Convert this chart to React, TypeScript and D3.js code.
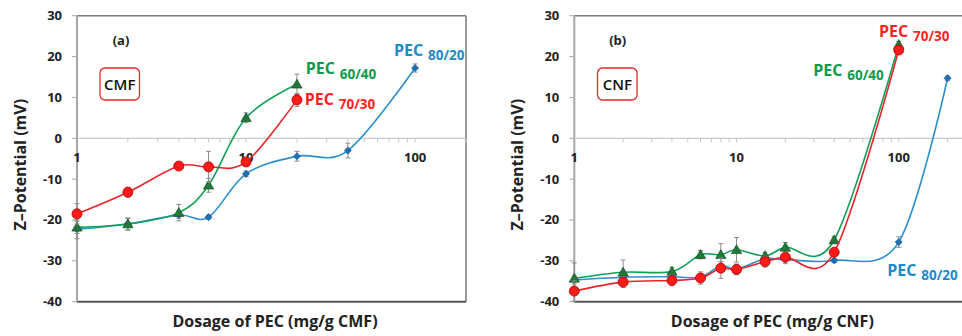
import * as d3 from "d3";

// dosage (mg/g) for each panel
const cmfDose = [1, 2, 4, 6, 10, 20, 40, 100];
const cnfDose = [1, 2, 4, 6, 8, 10, 15, 20, 40, 100, 200];

// Z-potential (mV), panel (a) CMF
const cmf6040 = [-21.8, -21.0, -18.2, -11.5, 5.0, 13.2];
const cmf6040Err = [1.5, 1.5, 2.0, 1.7, 1.2, 2.5];
const cmf7030 = [-18.5, -13.2, -6.8, -7.0, -5.8, 9.4];
const cmf7030Err = [2.5, 1.2, 0.8, 3.8, 1.0, 1.6];
const cmf8020 = [-22.3, -21.0, -18.8, -19.3, -8.7, -4.4, -3.0, 17.2];
const cmf8020Err = [2.3, 1.4, 0.8, 0.5, 0.7, 1.2, 1.8, 1.0];

// Z-potential (mV), panel (b) CNF
const cnf6040 = [-34.3, -32.8, -32.6, -28.5, -28.5, -27.3, -28.8, -26.7, -24.9, 22.9];
const cnf6040Err = [3.8, 3.0, 1.0, 1.0, 2.7, 3.0, 0.8, 1.2, 0.8, 0.8];
const cnf7030 = [-37.4, -35.2, -34.8, -34.2, -31.8, -32.1, -30.2, -29.1, -27.9, 21.6];
const cnf7030Err = [2.5, 1.3, 1.3, 1.5, 2.5, 1.3, 1.3, 1.0, 0.6, 0.8];
const cnf8020 = [-34.7, -34.0, -33.9, -34.0, -31.2, -32.0, -29.5, -29.7, -29.9, -25.4, 14.7];
const cnf8020Err = [1.0, 0.8, 0.8, 0.8, 1.0, 1.0, 0.8, 1.0, 0.5, 1.3, 0.5];

const yTicks = [30, 20, 10, 0, -10, -20, -30, -40];
const xLabels = [1, 10, 100];

const FONT = "'Open Sans', sans-serif";
const RED = "#ff1f1f";
const GREEN = "#0a9a4c";
const BLUE = "#1b8ac8";

type Series = {
  name: string;
  sub: string;
  values: number[];
  err: number[];
  line: string;
  fill: string;
  stroke: string;
  marker: "circle" | "triangle" | "diamond";
  label: [number, number];
};

type PanelProps = {
  x0: number;
  xMax: number;
  tag: string;
  box: string;
  boxX: number;
  tagX: number;
  title: string;
  dose: number[];
  series: Series[];
};

function Marker({ s, x, y }: { s: Series; x: number; y: number }) {
  if (s.marker === "circle")
    return <circle cx={x} cy={y} r={5} fill={s.fill} stroke={s.stroke} strokeWidth={0.8} />;
  if (s.marker === "triangle")
    return (
      <path
        d={d3.symbol(d3.symbolTriangle, 46)() as string}
        transform={`translate(${x},${y + 0.8})`}
        fill={s.fill}
        stroke="#0d3f1e"
        strokeWidth={0.6}
      />
    );
  return (
    <path
      d={d3.symbol(d3.symbolSquare, 26)() as string}
      transform={`translate(${x},${y}) rotate(45)`}
      fill={s.fill}
      stroke={s.stroke}
      strokeWidth={0.5}
    />
  );
}

function Panel({ x0, xMax, tag, box, boxX, tagX, title, dose, series }: PanelProps) {
  const W = 389;
  const top = 15.7;
  const bottom = 301.7;
  const x = d3.scaleLog().domain([1, xMax]).range([x0, x0 + W]);
  const y = d3.scaleLinear().domain([-40, 30]).range([bottom, top]);
  const line = d3
    .line<[number, number]>()
    .x((d) => x(d[0]))
    .y((d) => y(d[1]))
    .curve(d3.curveCardinal.tension(0));
  const minor = x.ticks().filter((t) => t > 1);

  return (
    <g fontFamily={FONT}>
      {/* frame */}
      <line x1={x0} x2={x0 + W} y1={top} y2={top} stroke="#7f7f7f" strokeWidth={1.6} />
      <line x1={x0 + W} x2={x0 + W} y1={top} y2={bottom} stroke="#7f7f7f" strokeWidth={1.6} />
      <line x1={x0} x2={x0 + W} y1={bottom} y2={bottom} stroke="#555" strokeWidth={2} />
      <line x1={x0} x2={x0} y1={top} y2={bottom} stroke="#a6a6a6" strokeWidth={2} />
      {yTicks.map((t) => (
        <g key={t}>
          <line x1={x0 - 5} x2={x0} y1={y(t)} y2={y(t)} stroke="#a6a6a6" strokeWidth={1} />
          <text x={x0 - 15} y={y(t) + 4.5} textAnchor="end" fontSize={13} fontWeight="bold" fill="#222">
            {t}
          </text>
        </g>
      ))}
      {/* zero line with log ticks */}
      <line x1={x0} x2={x0 + W} y1={y(0)} y2={y(0)} stroke="#bfbfbf" strokeWidth={1} />
      {minor.map((t) => (
        <line key={t} x1={x(t)} x2={x(t)} y1={y(0)} y2={y(0) + 4} stroke="#c8c8c8" strokeWidth={1} />
      ))}
      {xLabels.map((t) => (
        <text key={t} x={x(t)} y={y(0) + 24} textAnchor="middle" fontSize={13} fontWeight="bold" fill="#222">
          {t}
        </text>
      ))}

      {series.map((s) => {
        const pts = s.values.map((v, i) => [dose[i], v] as [number, number]);
        return (
          <g key={s.sub}>
            {pts.map(([d, v], i) => (
              <g key={i} stroke="#8c8c8c" strokeWidth={1}>
                <line x1={x(d)} x2={x(d)} y1={y(v - s.err[i])} y2={y(v + s.err[i])} />
                <line x1={x(d) - 2.5} x2={x(d) + 2.5} y1={y(v - s.err[i])} y2={y(v - s.err[i])} />
                <line x1={x(d) - 2.5} x2={x(d) + 2.5} y1={y(v + s.err[i])} y2={y(v + s.err[i])} />
              </g>
            ))}
            <path d={line(pts) as string} fill="none" stroke={s.line} strokeWidth={1.6} />
            {pts.map(([d, v], i) => (
              <Marker key={i} s={s} x={x(d)} y={y(v)} />
            ))}
          </g>
        );
      })}

      {series.map((s) => (
        <text key={s.sub} x={s.label[0]} y={s.label[1]} fill={s.name} fontWeight="bold" fontSize={16}>
          PEC
          <tspan x={s.label[0] + 34} dy={4.5} fontSize={13.5}>
            {s.sub}
          </tspan>
        </text>
      ))}

      <text x={tagX} y={45} textAnchor="middle" fontSize={13} fontWeight="bold" fill="#222">
        {tag}
      </text>
      <rect x={boxX} y={68} width={39.5} height={32} rx={5} fill="#fff" stroke="#e8262a" strokeWidth={1.3} />
      <text x={boxX + 19.75} y={89.5} textAnchor="middle" fontSize={15} fontWeight="600" fill="#111">
        {box}
      </text>

      <text
        transform={`translate(${x0 - 51},${(top + bottom) / 2 + 6}) rotate(-90)`}
        textAnchor="middle"
        fontSize={16}
        fontWeight="bold"
        fill="#222"
      >
        Z–Potential (mV)
      </text>
      <text x={x0 + 198} y={327} textAnchor="middle" fontSize={16} fontWeight="bold" fill="#222">
        {title}
      </text>
    </g>
  );
}

const mk = (
  color: string,
  sub: string,
  values: number[],
  err: number[],
  label: [number, number]
): Series => {
  if (color === "red")
    return { name: RED, sub, values, err, line: "#e8262a", fill: "#ff1a1a", stroke: "#b00000", marker: "circle", label };
  if (color === "green")
    return { name: GREEN, sub, values, err, line: "#12a05a", fill: "#1f7a3a", stroke: "#0d3f1e", marker: "triangle", label };
  return { name: BLUE, sub, values, err, line: "#2a90cc", fill: "#1d6fb2", stroke: "#174f80", marker: "diamond", label };
};

export default function App() {
  const cmfSeries = [
    mk("blue", "80/20", cmf8020, cmf8020Err, [394, 55.7]),
    mk("green", "60/40", cmf6040, cmf6040Err, [305.7, 74]),
    mk("red", "70/30", cmf7030, cmf7030Err, [304.7, 104.5]),
  ];
  const cnfSeries = [
    mk("blue", "80/20", cnf8020, cnf8020Err, [887.3, 275.7]),
    mk("green", "60/40", cnf6040, cnf6040Err, [813.3, 75.5]),
    mk("red", "70/30", cnf7030, cnf7030Err, [879, 36.7]),
  ];
  return (
    <svg
      width={962}
      height={336}
      style={{ position: "fixed", left: 0, top: 0, background: "#fff" }}
    >
      <rect width={962} height={336} fill="#fff" />
      <Panel
        x0={77}
        xMax={200}
        tag="(a)"
        box="CMF"
        boxX={100}
        tagX={121}
        title="Dosage of PEC (mg/g CMF)"
        dose={cmfDose}
        series={cmfSeries}
      />
      <Panel
        x0={574.3}
        xMax={250}
        tag="(b)"
        box="CNF"
        boxX={597.5}
        tagX={617.7}
        title="Dosage of PEC (mg/g CNF)"
        dose={cnfDose}
        series={cnfSeries}
      />
    </svg>
  );
}
